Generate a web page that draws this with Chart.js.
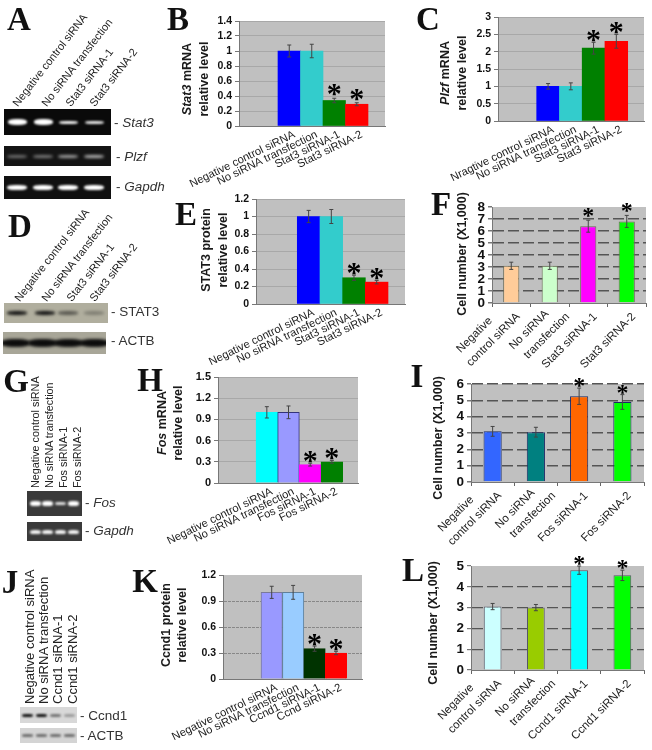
<!DOCTYPE html>
<html>
<head>
<meta charset="utf-8">
<script src="https://cdn.jsdelivr.net/npm/chart.js@4/dist/chart.umd.min.js"></script>
<style>
  html, body { margin: 0; padding: 0; background: #fff; }
  #page { position: relative; width: 652px; height: 750px; overflow: hidden; font-family: "Liberation Sans", Arial, sans-serif; color: #1a1a1a; }
  #page canvas { position: absolute; left: 0; top: 0; pointer-events: none; }
  .txt { position: absolute; white-space: nowrap; line-height: 1; }
  .letter { font: bold 33px "Liberation Serif", serif; color: #111; }
  .ytitle { font-weight: bold; font-size: 12.5px; }
  .lane { font-size: 11px; color: #222; }
  .laneG { font-size: 10.8px; color: #222; }
  .laneJ { font-size: 13px; color: #222; }
  .gene { font-size: 13.5px; color: #333; }
  .blot { position: absolute; overflow: hidden; }
  .band { position: absolute; }
</style>
</head>
<body>
<div id="page"></div>
<script>
// labels
var bLabels = ["Negative control siRNA", "No siRNA transfection", "Stat3 siRNA-1", "Stat3 siRNA-2"];
var cLabels = ["Nragtive control siRNA", "No siRNA transfection", "Stat3 siRNA-1", "Stat3 siRNA-2"];
var fLabels = [["Negative       ", "control siRNA"], ["No siRNA    ", "transfection"], "Stat3 siRNA-1", "Stat3 siRNA-2"];
var hLabels = ["Negative control siRNA", "No siRNA transfection", "Fos siRNA-1", "Fos siRNA-2"];
var iLabels = [["Negative       ", "control siRNA"], ["No siRNA    ", "transfection"], "Fos siRNA-1", "Fos siRNA-2"];
var kLabels = ["Negative control siRNA", "No siRNA transfection", "Ccnd1 siRNA-1", "Ccnd siRNA-2"];
var lLabels = [["Negative       ", "control siRNA"], ["No siRNA    ", "transfection"], "Ccnd1 siRNA-1", "Ccnd1 siRNA-2"];

// values
var bValues = [1, 1, 0.34, 0.29];
var bErrors = [0.08, 0.09, 0.03, 0.02];
var cValues = [1, 1, 2.1, 2.3];
var cErrors = [0.08, 0.1, 0.17, 0.2];
var eValues = [1, 1, 0.3, 0.25];
var eErrors = [0.07, 0.08, 0.03, 0.02];
var fValues = [3.1, 3.1, 6.4, 6.8];
var fErrors = [0.3, 0.3, 0.5, 0.5];
var hValues = [1, 1, 0.26, 0.3];
var hErrors = [0.08, 0.09, 0.02, 0.02];
var iValues = [3.1, 3.05, 5.25, 4.9];
var iErrors = [0.3, 0.3, 0.5, 0.45];
var kValues = [1, 1, 0.35, 0.3];
var kErrors = [0.07, 0.08, 0.03, 0.02];
var lValues = [3.05, 3, 4.8, 4.55];
var lErrors = [0.15, 0.15, 0.2, 0.25];
var starred = [false, false, true, true];

var page = document.getElementById("page");

function text(cls, x, y, html, rot, origin) {
  var d = document.createElement("div");
  d.className = "txt " + cls;
  d.innerHTML = html;
  d.style.left = x + "px";
  d.style.top = y + "px";
  if (origin == "start") {
    d.style.transformOrigin = "0 50%";
    d.style.transform = "translateY(-50%) rotate(" + rot + "deg)";
  } else {
    d.style.transform = "translate(-50%,-50%) rotate(" + (rot || 0) + "deg)";
  }
  page.appendChild(d);
}

// grey plot background, error bars and asterisks
var panelPlugin = {
  id: "panel",
  beforeDraw: function (chart) {
    var a = chart.chartArea, ctx = chart.ctx;
    ctx.fillStyle = "#c0c0c0";
    ctx.fillRect(a.left, a.top, a.right - a.left, a.bottom - a.top);
    // two line labels: second line takes the place of a single line, first line sits above it
    chart.scales.x.getLabelItems().forEach(function (item, i) {
      if (Array.isArray(item.label) && !item.moved) {
        item.textOffset -= item.font.lineHeight;
        if (i == 1) item.options.translation[0] += 11; // "transfection" runs further right than "control siRNA"
        item.moved = true;
      }
    });
  },
  afterDatasetsDraw: function (chart, args, opts) {
    var ctx = chart.ctx, y = chart.scales.y;
    var bars = chart.getDatasetMeta(0).data;
    ctx.save();
    bars.forEach(function (bar, i) {
      var top = y.getPixelForValue(opts.values[i] + opts.errors[i]);
      var low = y.getPixelForValue(opts.values[i] - opts.errors[i]);
      ctx.strokeStyle = "#444";
      ctx.lineWidth = 1;
      ctx.beginPath();
      ctx.moveTo(bar.x, top); ctx.lineTo(bar.x, low);
      ctx.moveTo(bar.x - 2, top); ctx.lineTo(bar.x + 2, top);
      ctx.moveTo(bar.x - 2, low); ctx.lineTo(bar.x + 2, low);
      ctx.stroke();
      if (opts.stars[i]) {
        ctx.fillStyle = "#000";
        ctx.font = "bold " + opts.starSize + "px 'Liberation Serif'";
        ctx.textAlign = "center";
        ctx.textBaseline = "alphabetic";
        ctx.fillText("*", bar.x, top - opts.starGap + opts.starSize * 0.5);
      }
    });
    ctx.restore();
  }
};

function makeChart(p) {
  var c = document.createElement("canvas");
  c.width = 652; c.height = 750;
  page.appendChild(c);
  var L = p.plot[0], T = p.plot[1], R = p.plot[2], B = p.plot[3];
  var xScale;
  if (p.barLeft) {
    // adjacent bars that sit off centre in the plot: numeric x scale, one unit = one bar
    var unit = (p.barRight - p.barLeft) / 4;
    xScale = {
      type: "linear",
      offset: false,
      min: 0.5 - (p.barLeft - L) / unit,
      max: 4.5 + (R - p.barRight) / unit,
      afterBuildTicks: function (s) { s.ticks = [1, 2, 3, 4].map(function (v) { return { value: v }; }); },
      grid: { display: false, offset: false },
      ticks: {
        autoSkip: false, minRotation: p.labelRot, maxRotation: p.labelRot, labelOffset: 5,
        padding: p.labelPad, color: "#222", font: { size: p.labelSize, family: "Liberation Sans" },
        callback: function (v) { return p.labels[v - 1]; }
      }
    };
  } else {
    xScale = {
      type: "category",
      grid: { display: true, drawOnChartArea: false, color: "#666", tickLength: 4 },
      ticks: {
        autoSkip: false, minRotation: p.labelRot, maxRotation: p.labelRot, labelOffset: 7,
        padding: p.labelPad, color: "#222", font: { size: p.labelSize, family: "Liberation Sans", lineHeight: 1.45 }
      }
    };
  }
  xScale.border = { color: "#777" };
  xScale.afterFit = function (s) { s.height = 750 - B; s.paddingLeft = 0; s.paddingRight = 0; };

  var data = p.barLeft
    ? p.values.map(function (v, i) { return { x: i + 1, y: v }; })
    : p.values;

  new Chart(c, {
    type: "bar",
    data: {
      labels: p.barLeft ? undefined : p.labels,
      datasets: [{
        data: data,
        backgroundColor: p.colors,
        borderColor: p.borders,
        borderWidth: p.borderWidth,
        barPercentage: p.barPct || 1,
        categoryPercentage: 1
      }]
    },
    options: {
      responsive: false,
      animation: false,
      layout: { padding: { top: T, right: 652 - R, left: 0, bottom: 0 } },
      plugins: {
        legend: { display: false },
        tooltip: { enabled: false },
        panel: { values: p.values, errors: p.errors, stars: starred, starSize: p.starSize, starGap: p.starGap }
      },
      scales: {
        x: xScale,
        y: {
          min: 0, max: p.ymax,
          ticks: {
            autoSkip: false, stepSize: p.ystep, color: "#111", padding: 3,
            font: { size: p.tickSize, weight: "bold", family: "Liberation Sans" },
            callback: function (v) { return String(+v.toFixed(2)); }
          },
          border: { color: "#777", dash: p.gridDash || [] },
          grid: {
            lineWidth: p.gridWidth, tickLength: 4, tickColor: "#777", tickBorderDash: [],
            color: function (ctx) {
              var v = ctx.tick ? ctx.tick.value : 1;
              if (v == 0 || (p.noTopLine && v == p.ymax)) return "rgba(0,0,0,0)";
              return p.gridColor;
            }
          },
          afterFit: function (s) { s.width = L; s.paddingTop = 0; s.paddingBottom = 0; }
        }
      }
    },
    plugins: [panelPlugin]
  });
}

var softGrid = { gridColor: "#a8a8a8", gridWidth: 1 };
var dashGrid = { gridColor: "#555", gridWidth: 1.5, gridDash: [11, 4] };

makeChart(Object.assign({ labels: bLabels, values: bValues, errors: bErrors, plot: [239, 21, 385, 126], barLeft: 278, barRight: 368,
  ymax: 1.4, ystep: 0.2, colors: ["#0000ff", "#33cccc", "#008000", "#ff0000"], borders: "rgba(0,0,0,0)", borderWidth: 0,
  tickSize: 10.5, labelRot: 26, labelSize: 11.2, labelPad: -6, starSize: 30, starGap: 10 }, softGrid));
makeChart(Object.assign({ labels: cLabels, values: cValues, errors: cErrors, plot: [498, 17, 644, 121], barLeft: 536.7, barRight: 627.7,
  ymax: 3, ystep: 0.5, colors: ["#0000ff", "#33cccc", "#008000", "#ff0000"], borders: "rgba(0,0,0,0)", borderWidth: 0,
  tickSize: 10.5, labelRot: 26, labelSize: 11.2, labelPad: -6, starSize: 30, starGap: 8 }, softGrid));
makeChart(Object.assign({ labels: bLabels, values: eValues, errors: eErrors, plot: [256, 199, 405, 304], barLeft: 297.3, barRight: 388,
  ymax: 1.2, ystep: 0.2, colors: ["#0000ff", "#33cccc", "#008000", "#ff0000"], borders: "rgba(0,0,0,0)", borderWidth: 0,
  tickSize: 10.5, labelRot: 26, labelSize: 11.2, labelPad: -6, starSize: 30, starGap: 8 }, softGrid));
makeChart(Object.assign({ labels: fLabels, values: fValues, errors: fErrors, plot: [492, 207, 646, 303], noTopLine: true,
  ymax: 8, ystep: 1, colors: ["#ffcc99", "#ccffcc", "#ff00ff", "#00ff00"], borders: "#6a6a55", borderWidth: 1, barPct: 0.42,
  tickSize: 13.5, labelRot: 45, labelSize: 11.5, labelPad: 2, starSize: 24, starGap: 9 }, dashGrid));
makeChart(Object.assign({ labels: hLabels, values: hValues, errors: hErrors, plot: [218, 377, 358, 483], barLeft: 256, barRight: 342.7,
  ymax: 1.5, ystep: 0.3, colors: ["#00ffff", "#9999ff", "#ff00ff", "#008000"], borders: ["#00ffff", "#33337a", "#ff00ff", "#008000"], borderWidth: 1,
  tickSize: 11, labelRot: 26, labelSize: 11.2, labelPad: -6, starSize: 30, starGap: 8 }, softGrid));
makeChart(Object.assign({ labels: iLabels, values: iValues, errors: iErrors, plot: [471, 384, 644, 482],
  ymax: 6, ystep: 1, colors: ["#3366ff", "#008080", "#ff6600", "#00ff00"], borders: "#1a2a66", borderWidth: 1, barPct: 0.42,
  tickSize: 13.5, labelRot: 45, labelSize: 11.5, labelPad: 2, starSize: 24, starGap: 7 }, dashGrid));
makeChart({ labels: kLabels, values: kValues, errors: kErrors, plot: [223, 575, 362, 679], barLeft: 261, barRight: 346.7, noTopLine: true,
  ymax: 1.2, ystep: 0.3, colors: ["#9999ff", "#99ccff", "#003300", "#ff0000"], borders: ["#7a7a99", "#5f7f99", "#003300", "#ff0000"], borderWidth: 1,
  tickSize: 10.5, labelRot: 26, labelSize: 11.2, labelPad: -6, starSize: 30, starGap: 8,
  gridColor: "#888", gridWidth: 1, gridDash: [3, 1] });
makeChart(Object.assign({ labels: lLabels, values: lValues, errors: lErrors, plot: [471, 566, 644, 670], noTopLine: true,
  ymax: 5, ystep: 1, colors: ["#ccffff", "#99cc00", "#00ffff", "#00ff00"], borders: "#556", borderWidth: 1, barPct: 0.41,
  tickSize: 13.5, labelRot: 45, labelSize: 11.5, labelPad: 2, starSize: 24, starGap: 7 }, dashGrid, { gridWidth: 1.2 }));

// panel letters
[["A", 19, 19], ["B", 178, 19], ["C", 428, 19], ["D", 20, 226], ["E", 186, 214], ["F", 441, 204],
 ["G", 16, 381], ["H", 150, 380], ["I", 417, 376], ["J", 10, 582], ["K", 145, 581], ["L", 413, 570]].forEach(function (a) {
  text("letter", a[1], a[2], a[0]);
});

// axis titles
text("ytitle", 187, 79, "<i>Stat3</i> mRNA", -90);
text("ytitle", 204, 79, "relative level", -90);
text("ytitle", 445, 73, "<i>Plzf</i> mRNA", -90);
text("ytitle", 462, 73, "relative level", -90);
text("ytitle", 206, 250, "STAT3 protein", -90);
text("ytitle", 223, 250, "relative level", -90);
text("ytitle", 162, 423, "<i>Fos</i> mRNA", -90);
text("ytitle", 178, 423, "relative level", -90);
text("ytitle", 166, 625, "Ccnd1 protein", -90);
text("ytitle", 182, 625, "relative level", -90);
text("ytitle", 462, 254, "Cell number (X1,000)", -90);
text("ytitle", 438, 438, "Cell number (X1,000)", -90);
text("ytitle", 433, 623, "Cell number (X1,000)", -90);

// lane headings over the blots
var stat3Lanes = ["Negative control siRNA", "No siRNA transfection", "Stat3 siRNA-1", "Stat3 siRNA-2"];
var fosLanes = ["Negative control siRNA", "No siRNA transfection", "Fos siRNA-1", "Fos siRNA-2"];
var ccndLanes = ["Negative control siRNA", "No siRNA transfection", "Ccnd1 siRNA-1", "Ccnd1 siRNA-2"];
[[15, 105], [44, 105], [68, 105], [92, 105]].forEach(function (q, i) { text("lane", q[0], q[1], stat3Lanes[i], -52, "start"); });
[[17, 300], [44, 300], [69, 300], [92, 300]].forEach(function (q, i) { text("lane", q[0], q[1], stat3Lanes[i], -52, "start"); });
[35, 49, 63, 77].forEach(function (x, i) { text("laneG", x, 488, fosLanes[i], -90, "start"); });
[29, 43, 57, 72].forEach(function (x, i) { text("laneJ", x, 704, ccndLanes[i], -90, "start"); });

// blots (gel photographs, no data in them)
function blot(x, y, w, h, bg, bandColor, lanes, strength, bandW, bandH, blur) {
  var b = document.createElement("div");
  b.className = "blot";
  b.style.cssText = "left:" + x + "px;top:" + y + "px;width:" + w + "px;height:" + h + "px;background:" + bg;
  lanes.forEach(function (lx, i) {
    var bh = Array.isArray(bandH) ? bandH[i] : bandH;
    var d = document.createElement("div");
    d.className = "band";
    d.style.cssText = "left:" + (lx - x - bandW / 2) + "px;top:" + ((h - bh) / 2) + "px;width:" + bandW + "px;height:" + bh +
      "px;background:" + bandColor + ";opacity:" + strength[i] + ";filter:blur(" + blur + "px);border-radius:40%";
    b.appendChild(d);
  });
  page.appendChild(b);
}
blot(4, 109, 107, 26, "#0a0a0a", "#fff", [17, 43, 68, 94], [1, 1, 0.95, 0.9], 19, [6, 6, 3, 3], 1.2);
blot(4, 146, 107, 20, "#141414", "#ddd", [17, 43, 68, 94], [0.45, 0.5, 0.7, 0.8], 20, 3, 1.5);
blot(4, 176, 107, 23, "#101010", "#fff", [17, 43, 68, 94], [1, 1, 1, 1], 20, 5, 1.2);
blot(4, 303, 104, 20, "#b0ae9e", "#111", [17, 45, 68, 94], [1, 1, 0.55, 0.3], 20, 4, 1.5);
blot(3, 332, 103, 22, "#a8a698", "#0c0c0c", [15, 42, 68, 94], [1, 1, 1, 1], 29, 8, 1.5);
blot(27, 491, 55, 25, "#3a3a3a", "#fff", [35, 47, 60, 73], [1, 1, 0.85, 1], 11, [5, 5, 3, 5], 1.2);
blot(27, 522, 55, 19, "#3a3a3a", "#fff", [35, 47, 60, 73], [0.95, 0.95, 0.95, 0.95], 11, 4, 1.2);
blot(20, 707, 57, 16, "#d8d8d8", "#111", [27, 41, 55, 69], [1, 1, 0.5, 0.3], 11, 3, 0.8);
blot(20, 728, 57, 15, "#d4d4d4", "#444", [27, 41, 55, 69], [0.7, 0.7, 0.7, 0.7], 11, 2.5, 0.8);

// blot row names
text("gene", 114, 123, "- <i>Stat3</i>", 0, "start");
text("gene", 116, 157, "- <i>Plzf</i>", 0, "start");
text("gene", 116, 187, "- <i>Gapdh</i>", 0, "start");
text("gene", 111, 312, "- STAT3", 0, "start");
text("gene", 111, 341, "- ACTB", 0, "start");
text("gene", 85, 503, "- <i>Fos</i>", 0, "start");
text("gene", 85, 531, "- <i>Gapdh</i>", 0, "start");
text("gene", 80, 716, "- Ccnd1", 0, "start");
text("gene", 80, 736, "- ACTB", 0, "start");
</script>
</body>
</html>
